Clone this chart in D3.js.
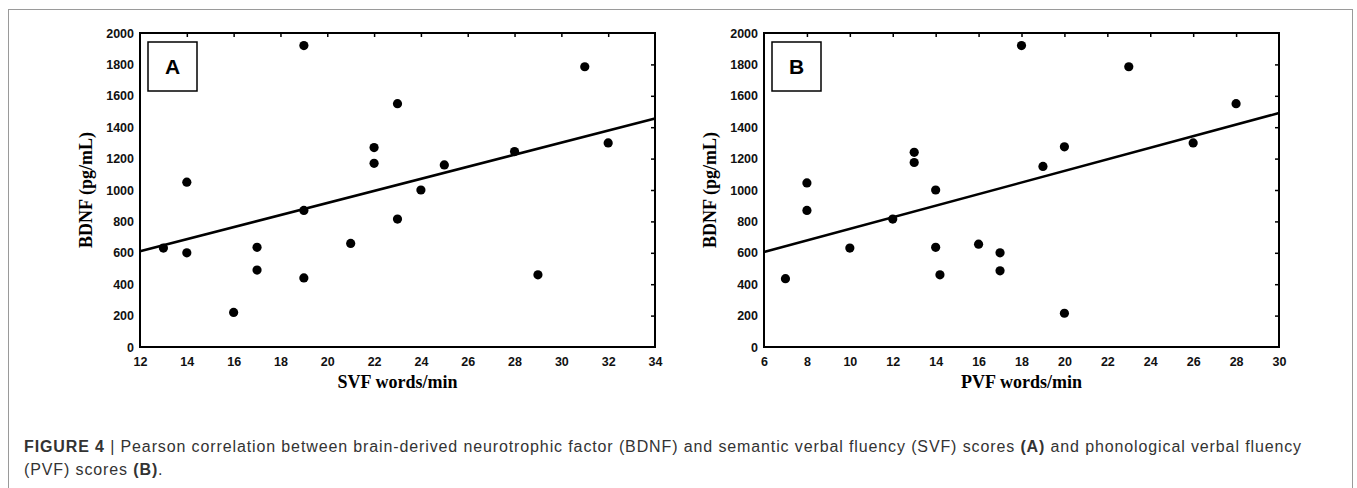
<!DOCTYPE html>
<html><head><meta charset="utf-8">
<script src="https://cdn.jsdelivr.net/npm/d3@7"></script>
<style>
html,body{margin:0;padding:0;background:#fff;}
svg{display:block;}
</style></head>
<body>
<svg id="c" width="1357" height="488"></svg>
<script>
// ---- data ----
const svfX = [13,14,14,16,17,17,19,19,19,21,22,22,23,23,24,25,28,29,31,32];
const svfY = [630,1050,600,220,635,490,1920,870,440,660,1270,1170,1550,815,1000,1160,1245,460,1785,1300];
const pvfX = [7,8,8,10,12,13,13,14,14,14.2,16,17,17,18,19,20,20,23,26,28];
const pvfY = [435,1045,870,630,815,1240,1175,1000,635,460,655,600,485,1920,1150,1275,215,1785,1300,1550];
const fitAX = [12,34], fitAY = [610,1455];
const fitBX = [6,30],  fitBY = [605,1490];
const xTicksA = [12,14,16,18,20,22,24,26,28,30,32,34];
const xTicksB = [6,8,10,12,14,16,18,20,22,24,26,28,30];
const yTicks = [0,200,400,600,800,1000,1200,1400,1600,1800,2000];
const panelLabels = ["A","B"];
const xTitles = ["SVF words/min","PVF words/min"];
const yTitle = "BDNF (pg/mL)";

const svg = d3.select("#c");

// outer frame
svg.append("rect").attr("x",8.5).attr("y",9.5).attr("width",1344).attr("height",500)
  .attr("fill","none").attr("stroke","#9a9a9a").attr("stroke-width",1);

function panel(cfg){
  const x = d3.scaleLinear().domain(cfg.xd).range([cfg.left, cfg.right]);
  const y = d3.scaleLinear().domain([0,2000]).range([347,33]);
  const g = svg.append("g");
  const tickFont = "'Liberation Sans', Arial, sans-serif";

  // bottom axis labels
  const bx = d3.axisBottom(x).tickValues(cfg.xt).tickSize(0).tickPadding(10).tickFormat(d3.format("d"));
  const gb = g.append("g").attr("transform",`translate(0,347)`).call(bx);
  gb.select(".domain").remove();
  gb.selectAll("text").attr("font-family",tickFont).attr("font-size",12.5).attr("font-weight","bold").attr("fill","#111");

  const ly = d3.axisLeft(y).tickValues(yTicks).tickSize(0).tickPadding(6).tickFormat(d3.format("d"));
  const gl = g.append("g").attr("transform",`translate(${cfg.left},0)`).call(ly);
  gl.select(".domain").remove();
  gl.selectAll("text").attr("font-family",tickFont).attr("font-size",12.5).attr("font-weight","bold").attr("fill","#111");

  // inward ticks on top and right
  const tx = d3.axisBottom(x).tickValues(cfg.xt.slice(1,-1)).tickSize(4).tickFormat("");
  const gt = g.append("g").attr("transform",`translate(0,33)`).call(tx);
  gt.select(".domain").remove();
  gt.selectAll("line").attr("stroke","#000").attr("stroke-width",1.5);
  const ry = d3.axisLeft(y).tickValues(yTicks.slice(1,-1)).tickSize(4).tickFormat("");
  const gr = g.append("g").attr("transform",`translate(${cfg.right},0)`).call(ry);
  gr.select(".domain").remove();
  gr.selectAll("line").attr("stroke","#000").attr("stroke-width",1.5);

  // plot frame
  g.append("rect").attr("x",cfg.left).attr("y",33).attr("width",cfg.right-cfg.left).attr("height",314)
    .attr("fill","none").attr("stroke","#000").attr("stroke-width",2);

  // fit line
  const line = d3.line().x(d=>x(d[0])).y(d=>y(d[1]));
  g.append("path").datum(cfg.fx.map((v,i)=>[v,cfg.fy[i]])).attr("d",line)
    .attr("stroke","#000").attr("stroke-width",2.6).attr("fill","none");

  // points
  g.selectAll("circle.pt").data(cfg.px.map((v,i)=>[v,cfg.py[i]])).join("circle")
    .attr("class","pt").attr("cx",d=>x(d[0])).attr("cy",d=>y(d[1])).attr("r",4.6).attr("fill","#000");

  // panel label box
  g.append("rect").attr("x",cfg.left+8).attr("y",42).attr("width",49).attr("height",49)
    .attr("fill","#fff").attr("stroke","#000").attr("stroke-width",1.5);
  g.append("text").attr("x",cfg.left+32.5).attr("y",74).attr("text-anchor","middle")
    .attr("font-family",tickFont).attr("font-weight","bold").attr("font-size",21).text(cfg.label);

  // axis titles
  g.append("text").attr("x",(cfg.left+cfg.right)/2).attr("y",388).attr("text-anchor","middle")
    .attr("font-family","'Liberation Serif', 'Times New Roman', serif").attr("font-weight","bold").attr("font-size",18)
    .text(cfg.xtitle);
  g.append("text").attr("transform",`translate(${cfg.left-48},190) rotate(-90)`).attr("text-anchor","middle")
    .attr("font-family","'Liberation Serif', 'Times New Roman', serif").attr("font-weight","bold").attr("font-size",18)
    .text(yTitle);
}

panel({xd:[12,34], left:140, right:655, xt:xTicksA, px:svfX, py:svfY, fx:fitAX, fy:fitAY, label:panelLabels[0], xtitle:xTitles[0]});
panel({xd:[6,30], left:764, right:1279, xt:xTicksB, px:pvfX, py:pvfY, fx:fitBX, fy:fitBY, label:panelLabels[1], xtitle:xTitles[1]});

// caption
const capFont = "'Liberation Sans', Arial, sans-serif";
const capSize = 16;
const cap1 = svg.append("text").attr("x",24).attr("y",452).attr("font-family",capFont).attr("font-size",capSize).attr("fill","#333");
cap1.append("tspan").attr("font-weight","bold").text("FIGURE 4");
cap1.append("tspan").text(" | Pearson correlation between brain-derived neurotrophic factor (BDNF) and semantic verbal fluency (SVF) scores ");
cap1.append("tspan").attr("font-weight","bold").text("(A)");
cap1.append("tspan").text(" and phonological verbal fluency");
const cap2 = svg.append("text").attr("x",24).attr("y",475).attr("font-family",capFont).attr("font-size",capSize).attr("fill","#333");
cap2.append("tspan").text("(PVF) scores ");
cap2.append("tspan").attr("font-weight","bold").text("(B)");
cap2.append("tspan").text(".");
// fit first caption line to its width in the reference
const w = cap1.node().getComputedTextLength();
const target = 1278;
const nChars = cap1.text().length;
const ls = (target - w) / nChars;
cap1.attr("letter-spacing", ls + "px");
cap2.attr("letter-spacing", ls + "px");
</script>
</body></html>
